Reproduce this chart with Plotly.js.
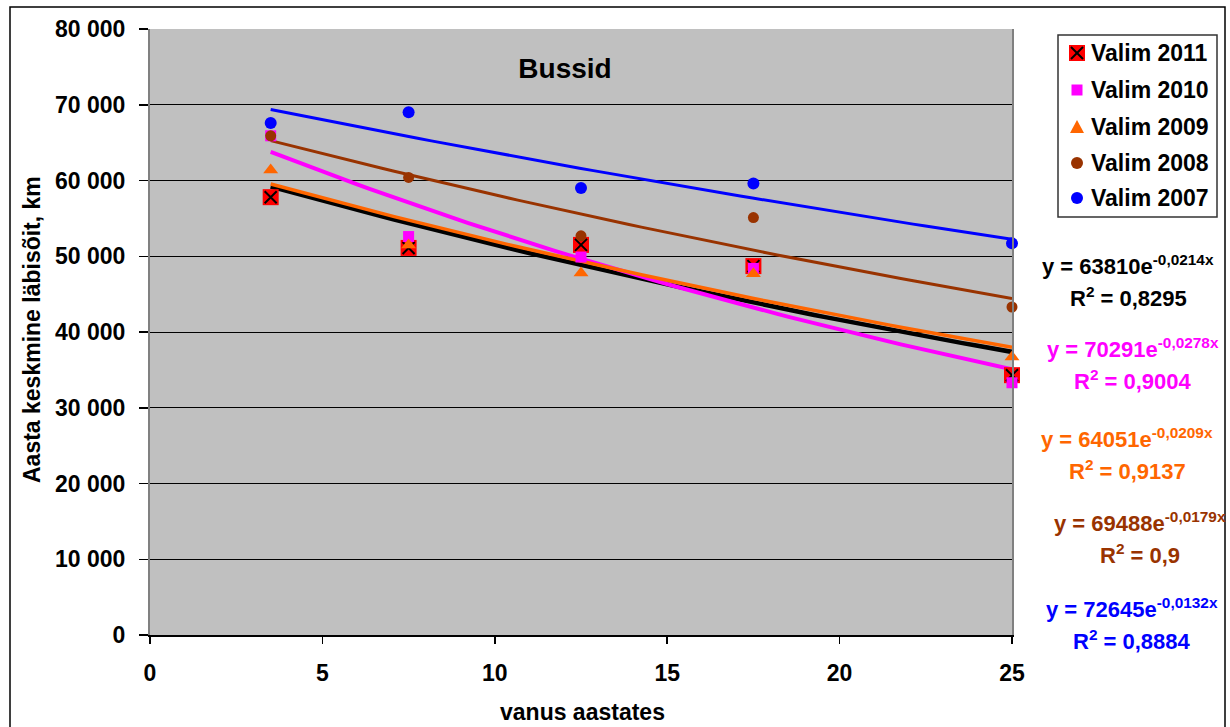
<!DOCTYPE html>
<html>
<head>
<meta charset="utf-8">
<script src="https://cdn.plot.ly/plotly-3.0.1.min.js"></script>
<style>html,body{margin:0;padding:0;background:#fff}#chart{width:1230px;height:727px}</style>
</head>
<body>
<div id="chart"></div>
<script>
// ---- data ----
const ages = [3.5, 7.5, 12.5, 17.5, 25];
const valim2011 = [57800, 51100, 51500, 48700, 34300];
const valim2010 = [65900, 52600, 49900, 48400, 33300];
const valim2009 = [61400, 51500, 47800, 47700, 36700];
const valim2008 = [65900, 60400, 52700, 55100, 43300];
const valim2007 = [67600, 69000, 59000, 59600, 51700];
const seriesNames = ['Valim 2011', 'Valim 2010', 'Valim 2009', 'Valim 2008', 'Valim 2007'];
// exponential trendline equations shown on the chart: y = A * e^(B x)
const fitA = [63810, 70291, 64051, 69488, 72645];
const fitB = [-0.0214, -0.0278, -0.0209, -0.0179, -0.0132];
const fitAText = ['63810', '70291', '64051', '69488', '72645'];
const fitBText = ['-0,0214', '-0,0278', '-0,0209', '-0,0179', '-0,0132'];
const r2Text = ['0,8295', '0,9004', '0,9137', '0,9', '0,8884'];
const xTicks = [0, 5, 10, 15, 20, 25];
const yTicks = [0, 10000, 20000, 30000, 40000, 50000, 60000, 70000, 80000];

// ---- styling ----
const FONT = 'Liberation Sans, Arial, sans-serif';
const colors = ['#000000', '#FF00FF', '#FF6600', '#993300', '#0000FF'];
const lineWidths = [4.5, 4, 3.5, 3, 3];
const markerColors = ['#FF0000', '#FF00FF', '#FF6600', '#993300', '#0000FF'];
const markerSymbols = ['square', 'square', 'triangle-up', 'circle', 'circle'];
const markerSizes = [16, 11, 13, 11, 12];
const allValues = [valim2011, valim2010, valim2009, valim2008, valim2007];

const M = {l: 150, r: 218, t: 29, b: 92};
const PW = 1230 - M.l - M.r, PH = 727 - M.t - M.b;
const X = p => (p - M.l) / PW;
const Y = p => (727 - M.b - p) / PH;

const traces = [];
// trendlines (sampled along the stated equations)
const xMin = ages[0], xMax = ages[ages.length - 1];
for (let i = 0; i < 5; i++) {
  const xs = [], ys = [];
  for (let k = 0; k <= 60; k++) {
    const x = xMin + (xMax - xMin) * k / 60;
    xs.push(x); ys.push(fitA[i] * Math.exp(fitB[i] * x));
  }
  traces.push({x: xs, y: ys, type: 'scatter', mode: 'lines', showlegend: false, hoverinfo: 'skip',
    line: {color: colors[i], width: lineWidths[i]}});
}
// markers
for (let i = 0; i < 5; i++) {
  traces.push({x: ages, y: allValues[i], type: 'scatter', mode: 'markers', name: seriesNames[i], showlegend: false,
    marker: {symbol: markerSymbols[i], size: markerSizes[i], color: markerColors[i], line: {width: 0}}, cliponaxis: false});
  if (i === 0) {
    traces.push({x: ages, y: allValues[0], type: 'scatter', mode: 'markers', showlegend: false, hoverinfo: 'skip',
      marker: {symbol: 'x-thin-open', size: 12, color: '#000000', line: {width: 2, color: '#000000'}}, cliponaxis: false});
  }
}

const shapes = [];
const annotations = [];
// outer frame
shapes.push({type: 'rect', xref: 'paper', yref: 'paper', x0: X(10), x1: X(1225), y0: Y(7), y1: Y(745),
  line: {color: '#000', width: 1.5}, fillcolor: 'rgba(0,0,0,0)'});
// legend box
shapes.push({type: 'rect', xref: 'paper', yref: 'paper', x0: X(1058), x1: X(1217), y0: Y(35), y1: Y(217),
  line: {color: '#333', width: 1.5}, fillcolor: '#fff'});
const legY = [53, 90, 127, 163, 198];
const mx = 1077;
function sq(cx, cy, h, col) {
  shapes.push({type: 'rect', xref: 'paper', yref: 'paper', x0: X(cx - h), x1: X(cx + h), y0: Y(cy + h), y1: Y(cy - h),
    line: {width: 0}, fillcolor: col});
}
sq(mx, legY[0], 8, markerColors[0]);
shapes.push({type: 'line', xref: 'paper', yref: 'paper', x0: X(mx - 6), x1: X(mx + 6), y0: Y(legY[0] - 6), y1: Y(legY[0] + 6), line: {color: '#000', width: 2}});
shapes.push({type: 'line', xref: 'paper', yref: 'paper', x0: X(mx - 6), x1: X(mx + 6), y0: Y(legY[0] + 6), y1: Y(legY[0] - 6), line: {color: '#000', width: 2}});
sq(mx, legY[1], 5.5, markerColors[1]);
shapes.push({type: 'path', xref: 'paper', yref: 'paper',
  path: `M ${X(mx - 7)} ${Y(legY[2] + 6)} L ${X(mx + 7)} ${Y(legY[2] + 6)} L ${X(mx)} ${Y(legY[2] - 7)} Z`,
  line: {width: 0}, fillcolor: markerColors[2]});
for (const j of [3, 4]) {
  shapes.push({type: 'circle', xref: 'paper', yref: 'paper', x0: X(mx - 6), x1: X(mx + 6), y0: Y(legY[j] + 6), y1: Y(legY[j] - 6),
    line: {width: 0}, fillcolor: markerColors[j]});
}
for (let i = 0; i < 5; i++) {
  annotations.push({xref: 'paper', yref: 'paper', x: X(1089), y: Y(legY[i]), xanchor: 'left', yanchor: 'middle',
    text: '<b>' + seriesNames[i] + '</b>', showarrow: false, font: {family: FONT, size: 23, color: '#000'}});
}
// equations
const eqX = [1128, 1133, 1127, 1140, 1132];
const eqY = [265, 348, 438, 522, 608];
for (let i = 0; i < 5; i++) {
  annotations.push({xref: 'paper', yref: 'paper', x: X(eqX[i]), y: Y(eqY[i]), xanchor: 'center', yanchor: 'middle',
    text: '<b>y = ' + fitAText[i] + 'e<sup>' + fitBText[i] + 'x</sup></b>', showarrow: false,
    font: {family: FONT, size: 22, color: colors[i]}});
  annotations.push({xref: 'paper', yref: 'paper', x: X(eqX[i]), y: Y(eqY[i] + 32), xanchor: 'center', yanchor: 'middle',
    text: '<b>R<sup>2</sup> = ' + r2Text[i] + '</b>', showarrow: false,
    font: {family: FONT, size: 22, color: colors[i]}});
}
// axis titles
annotations.push({xref: 'paper', yref: 'paper', x: X(32), y: Y(330), xanchor: 'center', yanchor: 'middle', textangle: -90,
  text: '<b>Aasta keskmine läbisõit, km</b>', showarrow: false, font: {family: FONT, size: 23, color: '#000'}});
annotations.push({xref: 'paper', yref: 'paper', x: X(582), y: Y(712), xanchor: 'center', yanchor: 'middle',
  text: '<b>vanus aastates</b>', showarrow: false, font: {family: FONT, size: 23, color: '#000'}});

const layout = {
  width: 1230, height: 727,
  margin: M,
  paper_bgcolor: '#ffffff',
  plot_bgcolor: '#C0C0C0',
  separators: ', ',
  showlegend: false,
  font: {family: FONT, color: '#000'},
  title: {text: '<b>Bussid</b>', x: 565 / 1230, y: 1 - 68 / 727, xanchor: 'center', yanchor: 'middle', xref: 'container', yref: 'container',
    font: {family: FONT, size: 28, color: '#000'}},
  xaxis: {range: [0, 25], tickvals: xTicks, ticktext: xTicks.map(String), showgrid: false, zeroline: false,
    showline: true, linecolor: '#000', linewidth: 2, mirror: false,
    ticks: 'outside', ticklen: 7, tickcolor: '#000', tickwidth: 1.5, ticklabelstandoff: 9,
    tickfont: {family: FONT, size: 23, color: '#000', weight: 'bold'}},
  yaxis: {range: [0, 80000], tickvals: yTicks, tickformat: ',d', showgrid: true, gridcolor: '#000', gridwidth: 1, zeroline: false,
    showline: true, linecolor: '#808080', linewidth: 2, mirror: true,
    ticks: 'outside', ticklen: 9, tickcolor: '#000', tickwidth: 1.5, ticklabelstandoff: 9,
    tickfont: {family: FONT, size: 23, color: '#000', weight: 'bold'}},
  shapes: shapes,
  annotations: annotations
};

Plotly.newPlot('chart', traces, layout, {displayModeBar: false, staticPlot: true});
</script>
</body>
</html>
